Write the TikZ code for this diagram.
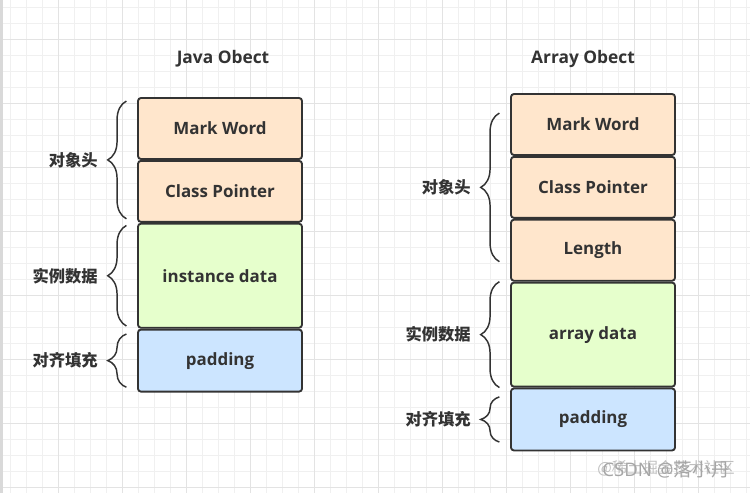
\documentclass[tikz,border=0pt]{standalone}
\usepackage{fontspec}
\setmainfont{Open Sans}
\newfontfamily\cjk{Noto Sans CJK SC}
\usetikzlibrary{positioning,decorations.pathreplacing}
\definecolor{inkgray}{HTML}{333333}
\definecolor{headfill}{HTML}{FFE6CC}
\definecolor{datafill}{HTML}{E6FFCC}
\definecolor{padfill}{HTML}{CCE5FF}
\definecolor{gridgray}{HTML}{F0F0F0}
\definecolor{majorgray}{HTML}{E3E3E3}
\tikzstyle{cell}=[draw=inkgray,line width=1.4pt,rounded corners=2.2pt,minimum width=123pt,minimum height=45.75pt,inner sep=0pt,text=inkgray,font=\fontsize{12.7}{14}\selectfont\bfseries]
\tikzstyle{headbox}=[cell,fill=headfill]
\tikzstyle{databox}=[cell,fill=datafill,minimum height=78pt]
\tikzstyle{padbox}=[cell,fill=padfill,minimum height=46.5pt]
\tikzstyle{objtitle}=[text=inkgray,font=\fontsize{13}{15}\selectfont\bfseries]
\tikzstyle{objbrace}=[draw=inkgray,line width=1.1pt,decorate,decoration={brace,amplitude=14pt}]
\tikzstyle{bracelabel}=[midway,left=21pt,inner sep=0pt,text=inkgray,font=\cjk\bfseries\fontsize{12.2}{14}\selectfont]
\tikzstyle{gridline}=[gridgray,line width=0.7pt]
\tikzstyle{majorline}=[majorgray,line width=0.7pt]
\tikzstyle{wmtext}=[inner sep=0pt,text=black!25]
\newcommand{\drawbraces}[1]{
	\foreach \a/\b/\s/\n/\t in {#1}{
		\draw[objbrace] ([xshift=-8pt,yshift=\s]\a) -- ([xshift=-8pt,yshift=-\s]\b)
			node[bracelabel] (\n) {\t};
	}
}

\begin{document}
\begin{tikzpicture}[x=0.75pt,y=-0.75pt]
\useasboundingbox (0,0) rectangle (750,493);
\fill[white] (0,0) rectangle (750,493);
\foreach \gx in {10,26,...,746}{
	\draw[gridline] (\gx,0) -- (\gx,493);
}
\foreach \gy in {7,23,...,491}{
	\draw[gridline] (0,\gy) -- (750,\gy);
}
\foreach \gx in {58,122,...,746}{
	\draw[majorline] (\gx,0) -- (\gx,493);
}
\foreach \gy in {39,103,...,491}{
	\draw[majorline] (0,\gy) -- (750,\gy);
}
\fill[black!15] (0,0) rectangle (3,493);

% Java object
\node[objtitle] (jtitle) at (223,59) {Java Obect};
\node[headbox] (jmw) at (220,128.5) {Mark Word};
\node[headbox,below=0pt of jmw] (jcp) {Class Pointer};
\node[databox,below=0pt of jcp] (jid) {instance data};
\node[padbox,below=0pt of jid] (jpad) {padding};

% array object
\node[objtitle] (atitle) at (583,59) {Array Obect};
\node[headbox] (amw) at (593,124.5) {Mark Word};
\node[headbox,below=0pt of amw] (acp) {Class Pointer};
\node[headbox,below=0pt of acp] (alen) {Length};
\node[databox,below=0pt of alen] (aad) {array data};
\node[padbox,below=0pt of aad] (apad) {padding};

\drawbraces{jcp.south west/jmw.north west/3pt/jhead/对象头,jid.south west/jid.north west/2pt/jdata/实例数据,jpad.south west/jpad.north west/4pt/jfill/对齐填充}
\drawbraces{alen.south west/amw.north west/15pt/ahead/对象头,aad.south west/aad.north west/0pt/adata/实例数据,apad.south west/apad.north west/7pt/afill/对齐填充}

% watermark
\node[wmtext,font=\cjk\fontsize{11.5}{13}\selectfont] (wmsite) at (666,468) {@稀土掘金技术社区};
\node[wmtext,text=black!35,font=\fontsize{14}{16}\selectfont] (wmcsdn) at (666,470) {CSDN @{\cjk 落小丹}};
\end{tikzpicture}
\end{document}
